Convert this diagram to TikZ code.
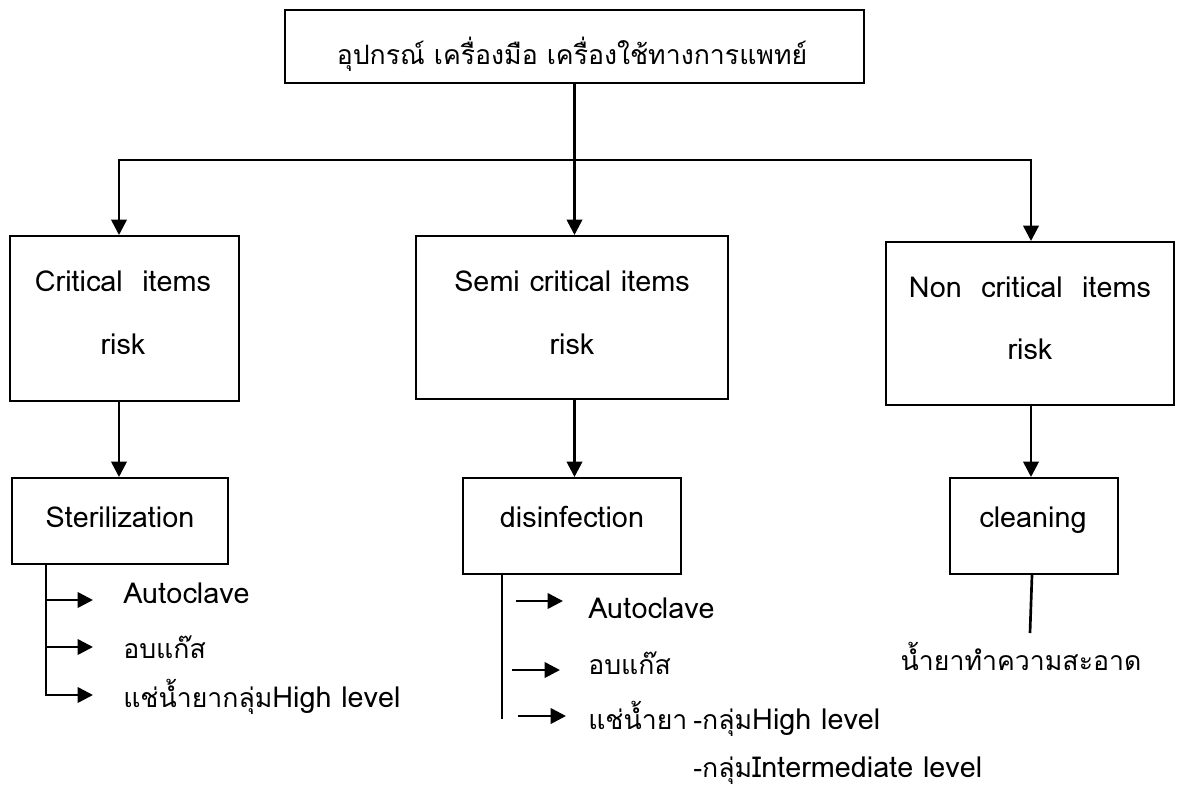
\documentclass[tikz,border=0pt]{standalone}
\usepackage{fontspec}
\setmainfont[Script=Thai]{Loma}
\newfontfamily\latinpart[Scale=1.08]{Loma}
\newcommand{\lat}[1]{{\latinpart #1}}
\usetikzlibrary{arrows.meta}
\begin{document}
\begin{tikzpicture}[x=0.75pt,y=-0.75pt,
  box/.style={draw, line width=1.5pt, inner sep=0pt, rectangle},
  link/.style={line width=2pt},
  arr/.style={link, -{Triangle[length=11.5pt,width=11.5pt]}},
  lbl/.style={inner sep=0pt, anchor=base, font=\fontsize{20}{24}\selectfont},
  item/.style={inner sep=0pt, anchor=base west, font=\fontsize{20}{24}\selectfont}]
\useasboundingbox (0,0) rectangle (1182,793);

% boxes
\node[box, minimum width=434.25pt, minimum height=54.75pt] (top) at (574.5,46.5) {};
\node[box, minimum width=171.75pt, minimum height=123.75pt] (crit) at (124.5,318.5) {};
\node[box, minimum width=234pt, minimum height=122.25pt] (semi) at (572,317.5) {};
\node[box, minimum width=216pt, minimum height=122.25pt] (non) at (1030,323.5) {};
\node[box, minimum width=162pt, minimum height=64.5pt] (ster) at (120,521) {};
\node[box, minimum width=163.5pt, minimum height=72pt] (dis) at (572,526) {};
\node[box, minimum width=126pt, minimum height=72pt] (clean) at (1034,526) {};

% box texts
\node[lbl] (ttop) at (572,64) {อุปกรณ์ เครื่องมือ เครื่องใช้ทางการแพทย์};
\node[lbl] (tc1) at (123,291) {\lat{Critical~~items}};
\node[lbl] (tc2) at (123,354) {\lat{risk}};
\node[lbl] (ts1) at (572,291) {\lat{Semi critical items}};
\node[lbl] (ts2) at (572,354) {\lat{risk}};
\node[lbl] (tn1) at (1030,297) {\lat{Non~~critical~~items}};
\node[lbl] (tn2) at (1030,359) {\lat{risk}};
\node[lbl] (tst) at (120,527) {\lat{Sterilization}};
\node[lbl] (tdi) at (572,527) {\lat{disinfection}};
\node[lbl] (tcl) at (1033,527) {\lat{cleaning}};

% top level distribution
\coordinate (busL) at (119,160);
\coordinate (busR) at (1031,160);
\draw[link, line cap=rect] (busL) -- (busR);
\draw[arr] (top.south) -- (top.south |- semi.north);
\draw[arr] (busL) -- (busL |- crit.north);
\draw[arr] (busR) -- (busR |- non.north);

% second level
\draw[arr] (busL |- crit.south) -- (busL |- ster.north);
\draw[arr] (top.south |- semi.south) -- (top.south |- dis.north);
\draw[arr] (busR |- non.south) -- (busR |- clean.north);

% sterilization methods
\node[item] (s1) at (123,603) {\lat{Autoclave}};
\node[item] (s2) at (123,658) {อบแก๊ส};
\node[item] (s3) at (123,707) {แช่น้ำยากลุ่ม\lat{High level}};
\coordinate (sTop) at (46,564);
\coordinate (sA) at (46,600);
\coordinate (sB) at (46,647);
\coordinate (sBot) at (46,695);
\draw[arr, shorten >=22.5pt] (sTop) -- (sBot) -- (sBot -| s3.west);
\draw[arr, shorten >=22.5pt] (sA) -- (sA -| s1.west);
\draw[arr, shorten >=22.5pt] (sB) -- (sB -| s2.west);

% disinfection methods
\node[item] (d1) at (588,618) {\lat{Autoclave}};
\node[item] (d2) at (588,674) {อบแก๊ส};
\node[item] (d3) at (588,729) {แช่น้ำยา};
\node[item] (d4) at (693,729) {-กลุ่ม\lat{High level}};
\node[item] (d5) at (693,777) {-กลุ่ม\lat{Intermediate level}};
\coordinate (dTop) at (502,574);
\coordinate (dBot) at (502,719);
\draw[link] (dTop) -- (dBot);
\coordinate (dA) at (516,601);
\coordinate (dB) at (512,670);
\coordinate (dC) at (518,716);
\draw[arr, shorten >=18.75pt] (dA) -- (dA -| d1.west);
\draw[arr, shorten >=21pt] (dB) -- (dB -| d2.west);
\draw[arr, shorten >=16.5pt] (dC) -- (dC -| d3.west);

% cleaning
\node[lbl] (c1) at (1021,670) {น้ำยาทำความสะอาด};
\coordinate (cEnd) at (1030,633);
\draw[link] ([xshift=-1.5pt]clean.south) -- (cEnd);
\end{tikzpicture}
\end{document}
